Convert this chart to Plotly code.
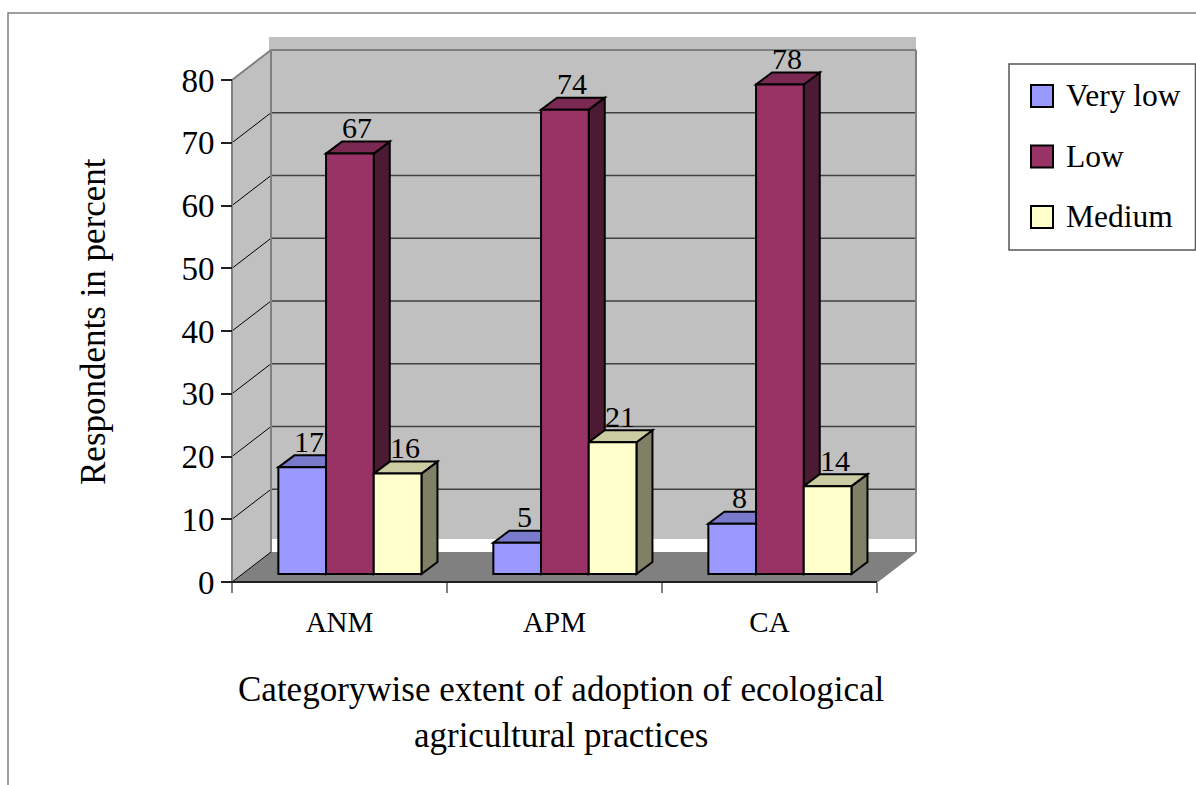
import plotly.graph_objects as go

# ---------------- data ----------------
CATEGORIES = ["ANM", "APM", "CA"]
SERIES = ["Very low", "Low", "Medium"]
VERY_LOW = [17, 5, 8]
LOW = [67, 74, 78]
MEDIUM = [16, 21, 14]
TICK_VALUES = [0, 10, 20, 30, 40, 50, 60, 70, 80]
Y_TITLE = "Respondents in percent"
X_TITLE = "Categorywise extent of adoption of ecological<br>agricultural practices"

# ---------------- styling / geometry ----------------
W, H = 1196, 785
FONT = "Liberation Serif"
FRONT = ["#9999FF", "#993366", "#FFFFCC"]
TOP = ["#7A7ACC", "#7A2952", "#CCCCA3"]
SIDE = ["#4D4D80", "#4D1A33", "#808066"]

FX0 = 232.0      # pixel x of the front axis
CATW = 215.0     # pixel width of a category on the front plane
FY0 = 582.0      # pixel y of value 0 on the front plane
PPU = 6.275      # pixels per value unit
DXB, DYB = 39.0, 30.0        # depth of the wall (pixels)
BDX, BDY = 10.4, 8.0         # offset of bar front faces into depth
BDDX, BDDY = 16.0, 12.0      # bar depth
BW_PX = 47.7                 # bar width


def U(px):
    return (px - FX0) / CATW


def V(py):
    return (FY0 - py) / PPU


def du(d):
    return d / CATW


def dv(d):
    return d / PPU


def path(points):
    return "M " + " L ".join(f"{x:.5f},{y:.5f}" for x, y in points) + " Z"


n = len(CATEGORIES)
YMAX = TICK_VALUES[-1]
BW = du(BW_PX)
BASE = dv(BDY)
all_series = [VERY_LOW, LOW, MEDIUM]

shapes = []
annotations = []


def line(x0, y0, x1, y1, color, width):
    shapes.append(dict(type="line", xref="x", yref="y", x0=x0, y0=y0, x1=x1, y1=y1,
                       line=dict(color=color, width=width), layer="below"))


def poly(points, fill, lcolor="rgba(0,0,0,0)", lwidth=0):
    shapes.append(dict(type="path", xref="x", yref="y", path=path(points),
                       fillcolor=fill, line=dict(color=lcolor, width=lwidth), layer="below"))


bx, by = du(DXB), dv(DYB)
# top band of the back wall
poly([(du(DXB - 2), YMAX + by), (n + bx, YMAX + by), (n + bx, YMAX + by + dv(13)),
      (du(DXB - 2), YMAX + by + dv(13))], "#C0C0C0")
# side wall
poly([(0, 0), (0, YMAX), (bx, YMAX + by), (bx, by)], "#C0C0C0")
# back wall
poly([(bx, by), (bx, YMAX + by), (n + bx, YMAX + by), (n + bx, by)], "#C0C0C0")
# white strip at the bottom of the back wall
poly([(bx, by), (bx, by + dv(13)), (n + bx, by + dv(13)), (n + bx, by)], "white")
# floor
poly([(0, 0), (n, 0), (n + bx, by), (bx, by)], "#808080")
# back-wall gridlines
for t in TICK_VALUES[1:-1]:
    line(bx, t + by, n + bx, t + by, "#404040", 1.5)
# side-wall gridlines
for t in TICK_VALUES[:-1]:
    line(0, t, bx, t + by, "black", 1)
# wall borders
line(0, YMAX, bx, YMAX + by, "#808080", 2)
line(bx, by, bx, YMAX + by, "#808080", 2)
line(bx, YMAX + by, n + bx, YMAX + by, "#808080", 2)
line(n + bx, by, n + bx, YMAX + by, "#808080", 2)
line(n, 0, n + bx, by, "#808080", 1.5)
# front axes lines
line(0, 0, 0, YMAX, "#808080", 2)
line(0, 0, n, 0, "#202020", 2)

# bar tops and sides (drawn below the front faces)
for i in range(n):
    for s, vals in enumerate(all_series):
        left = i + 0.5 + (s - 1) * BW - BW / 2 + du(BDX)
        top = vals[i] + BASE
        right = left + BW
        poly([(right, BASE), (right, top), (right + du(BDDX), top + dv(BDDY)),
              (right + du(BDDX), BASE + dv(BDDY))], SIDE[s], "black", 2)
        poly([(left, top), (right, top), (right + du(BDDX), top + dv(BDDY)),
              (left + du(BDDX), top + dv(BDDY))], TOP[s], "black", 2)
        annotations.append(dict(xref="x", yref="y", x=left + BW / 2 + du(7),
                                y=top + dv(BDDY) + dv(14), text=str(vals[i]),
                                showarrow=False, yanchor="middle", xanchor="center",
                                font=dict(family=FONT, size=30, color="black")))

fig = go.Figure()
for s, (name, vals) in enumerate(zip(SERIES, all_series)):
    xs = [i + 0.5 + (s - 1) * BW + du(BDX) for i in range(n)]
    fig.add_trace(go.Bar(x=xs, y=vals, base=BASE, width=BW, name=name,
                         marker=dict(color=FRONT[s], line=dict(color="black", width=2)),
                         showlegend=False, hoverinfo="name+y"))

# outer chart border
shapes.append(dict(type="rect", xref="paper", yref="paper", x0=8 / W, y0=1 - 13 / H,
                   x1=1.05, y1=-0.05, line=dict(color="#808080", width=1.5),
                   fillcolor="rgba(0,0,0,0)"))
# legend box
shapes.append(dict(type="rect", xref="paper", yref="paper", x0=1009 / W, y0=1 - 250 / H,
                   x1=1195.5 / W, y1=1 - 64 / H, line=dict(color="#555555", width=1.5),
                   fillcolor="white"))
for s, name in enumerate(SERIES):
    cy = 96 + 60.5 * s
    shapes.append(dict(type="rect", xref="paper", yref="paper", x0=1031 / W, x1=1053 / W,
                       y0=1 - (cy + 11) / H, y1=1 - (cy - 11) / H,
                       fillcolor=FRONT[s], line=dict(color="black", width=2)))
    annotations.append(dict(xref="paper", yref="paper", x=1064 / W, y=1 - cy / H,
                            text=name, showarrow=False, xanchor="left", yanchor="middle",
                            font=dict(family=FONT, size=31.5, color="black")))

# axis titles
annotations.append(dict(xref="paper", yref="paper", x=93 / W, y=1 - 322 / H, text=Y_TITLE,
                        textangle=-90, showarrow=False, xanchor="center", yanchor="middle",
                        font=dict(family=FONT, size=35, color="black")))
annotations.append(dict(xref="paper", yref="paper", x=561 / W, y=1 - 712 / H, text=X_TITLE,
                        showarrow=False, xanchor="center", yanchor="middle",
                        font=dict(family=FONT, size=35, color="black")))

fig.update_layout(
    width=W, height=H,
    margin=dict(l=0, r=0, t=0, b=0, pad=0),
    paper_bgcolor="white", plot_bgcolor="white",
    barmode="overlay",
    showlegend=False,
    font=dict(family=FONT, color="black"),
    shapes=shapes,
    annotations=annotations,
    xaxis=dict(range=[U(0), U(W)], anchor="free", position=1 - FY0 / H,
               tickvals=[i + 0.5 for i in range(n)], ticktext=CATEGORIES,
               ticks="", showline=False, showgrid=False, zeroline=False,
               tickfont=dict(family=FONT, size=29, color="black"),
               ticklabelstandoff=20,
               minor=dict(tickvals=list(range(n + 1)), ticks="outside", ticklen=10,
                          tickcolor="#808080", tickwidth=1.5),
               fixedrange=True),
    yaxis=dict(range=[V(H), V(0)], anchor="free", position=FX0 / W,
               tickvals=TICK_VALUES, ticks="outside", ticklen=11, tickwidth=1.5,
               tickcolor="#202020", showline=False, showgrid=False, zeroline=False,
               tickfont=dict(family=FONT, size=33, color="black"),
               fixedrange=True),
)

fig.write_html("out.html", config={"displayModeBar": False},
               post_script="document.body.style.margin='0';document.body.style.overflow='hidden';")
